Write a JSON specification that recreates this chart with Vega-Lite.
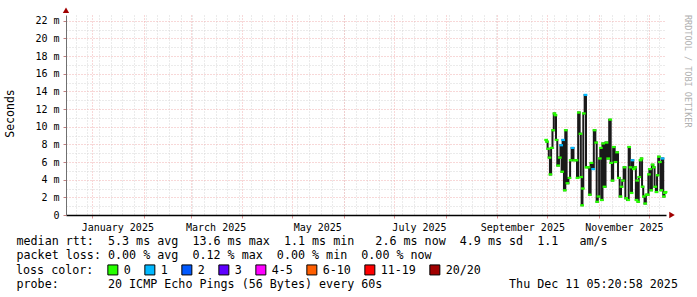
{
  "$schema": "https://vega.github.io/schema/vega-lite/v6.json",
  "autosize": "none",
  "width": 600,
  "height": 200,
  "padding": {"left": 66, "top": 15, "right": 31, "bottom": 82},
  "background": "white",
  "config": {"view": {"stroke": null}, "font": "DejaVu Sans Mono"},
  "title": {"text": "RRDTOOL / TOBI OETIKER", "orient": "right", "anchor": "start", "frame": "group", "font": "DejaVu Sans Mono", "fontSize": 8.5, "fontWeight": "normal", "color": "#b0b0b0", "offset": 6},
  "data": {"values": [
    {"t": "2025-09-30T07:00", "v": 8.5, "loss": "0"},
    {"t": "2025-09-30T21:00", "v": 8.3, "loss": "0"},
    {"t": "2025-10-01T12:00", "v": 7.5, "loss": "0"},
    {"t": "2025-10-02T07:00", "v": 6.5, "loss": "0"},
    {"t": "2025-10-02T21:00", "v": 4.6, "loss": "0"},
    {"t": "2025-10-03T17:00", "v": 7.6, "loss": "0"},
    {"t": "2025-10-04T12:00", "v": 9.6, "loss": "0"},
    {"t": "2025-10-05T07:00", "v": 11.5, "loss": "0"},
    {"t": "2025-10-05T22:00", "v": 11.3, "loss": "0"},
    {"t": "2025-10-06T12:00", "v": 8.5, "loss": "0"},
    {"t": "2025-10-07T12:00", "v": 5.6, "loss": "0"},
    {"t": "2025-10-08T12:00", "v": 6.5, "loss": "0"},
    {"t": "2025-10-09T07:00", "v": 7.9, "loss": "1"},
    {"t": "2025-10-09T22:00", "v": 4.9, "loss": "0"},
    {"t": "2025-10-10T12:00", "v": 8.5, "loss": "1"},
    {"t": "2025-10-11T12:00", "v": 2.8, "loss": "0"},
    {"t": "2025-10-12T02:00", "v": 9.6, "loss": "0"},
    {"t": "2025-10-13T02:00", "v": 3.6, "loss": "0"},
    {"t": "2025-10-14T07:00", "v": 4.2, "loss": "0"},
    {"t": "2025-10-15T02:00", "v": 6.2, "loss": "0"},
    {"t": "2025-10-16T03:00", "v": 7.6, "loss": "1"},
    {"t": "2025-10-17T07:00", "v": 6.2, "loss": "0"},
    {"t": "2025-10-18T12:00", "v": 6.2, "loss": "0"},
    {"t": "2025-10-19T03:00", "v": 4.2, "loss": "0"},
    {"t": "2025-10-19T22:00", "v": 11.6, "loss": "0"},
    {"t": "2025-10-20T22:00", "v": 9.2, "loss": "0"},
    {"t": "2025-10-21T07:00", "v": 4.3, "loss": "0"},
    {"t": "2025-10-21T22:00", "v": 1.1, "loss": "0"},
    {"t": "2025-10-22T07:00", "v": 3.0, "loss": "0"},
    {"t": "2025-10-22T22:00", "v": 11.5, "loss": "0"},
    {"t": "2025-10-23T22:00", "v": 13.6, "loss": "1"},
    {"t": "2025-10-24T12:00", "v": 5.4, "loss": "0"},
    {"t": "2025-10-25T17:00", "v": 5.4, "loss": "0"},
    {"t": "2025-10-26T12:00", "v": 2.3, "loss": "0"},
    {"t": "2025-10-27T12:00", "v": 5.9, "loss": "0"},
    {"t": "2025-10-28T12:00", "v": 5.2, "loss": "1"},
    {"t": "2025-10-29T08:00", "v": 9.6, "loss": "0"},
    {"t": "2025-10-30T08:00", "v": 8.2, "loss": "0"},
    {"t": "2025-10-30T22:00", "v": 1.5, "loss": "0"},
    {"t": "2025-10-31T17:00", "v": 2.1, "loss": "0"},
    {"t": "2025-11-01T12:00", "v": 6.4, "loss": "0"},
    {"t": "2025-11-02T03:00", "v": 7.6, "loss": "0"},
    {"t": "2025-11-02T17:00", "v": 1.7, "loss": "0"},
    {"t": "2025-11-03T12:00", "v": 8.1, "loss": "0"},
    {"t": "2025-11-04T08:00", "v": 3.2, "loss": "0"},
    {"t": "2025-11-05T13:00", "v": 8.2, "loss": "0"},
    {"t": "2025-11-06T13:00", "v": 6.4, "loss": "0"},
    {"t": "2025-11-07T18:00", "v": 10.8, "loss": "0"},
    {"t": "2025-11-08T08:00", "v": 5.9, "loss": "0"},
    {"t": "2025-11-09T03:00", "v": 3.9, "loss": "0"},
    {"t": "2025-11-09T22:00", "v": 7.7, "loss": "0"},
    {"t": "2025-11-10T22:00", "v": 6.0, "loss": "0"},
    {"t": "2025-11-11T22:00", "v": 7.1, "loss": "0"},
    {"t": "2025-11-12T22:00", "v": 4.2, "loss": "0"},
    {"t": "2025-11-13T22:00", "v": 2.1, "loss": "0"},
    {"t": "2025-11-14T13:00", "v": 3.2, "loss": "0"},
    {"t": "2025-11-15T08:00", "v": 3.9, "loss": "0"},
    {"t": "2025-11-16T08:00", "v": 5.4, "loss": "0"},
    {"t": "2025-11-17T08:00", "v": 1.9, "loss": "0"},
    {"t": "2025-11-18T13:00", "v": 1.7, "loss": "0"},
    {"t": "2025-11-19T03:00", "v": 7.7, "loss": "0"},
    {"t": "2025-11-19T23:00", "v": 5.4, "loss": "0"},
    {"t": "2025-11-20T13:00", "v": 2.5, "loss": "0"},
    {"t": "2025-11-21T03:00", "v": 6.2, "loss": "1"},
    {"t": "2025-11-21T23:00", "v": 5.2, "loss": "0"},
    {"t": "2025-11-22T18:00", "v": 5.4, "loss": "0"},
    {"t": "2025-11-23T13:00", "v": 1.7, "loss": "0"},
    {"t": "2025-11-23T23:00", "v": 3.9, "loss": "0"},
    {"t": "2025-11-24T13:00", "v": 1.5, "loss": "0"},
    {"t": "2025-11-25T04:00", "v": 4.3, "loss": "0"},
    {"t": "2025-11-25T23:00", "v": 6.2, "loss": "0"},
    {"t": "2025-11-26T13:00", "v": 6.4, "loss": "0"},
    {"t": "2025-11-27T04:00", "v": 3.2, "loss": "0"},
    {"t": "2025-11-27T23:00", "v": 2.1, "loss": "0"},
    {"t": "2025-11-28T18:00", "v": 1.3, "loss": "0"},
    {"t": "2025-11-29T13:00", "v": 2.3, "loss": "0"},
    {"t": "2025-11-30T08:00", "v": 2.3, "loss": "0"},
    {"t": "2025-11-30T23:00", "v": 4.6, "loss": "0"},
    {"t": "2025-12-01T13:00", "v": 5.2, "loss": "0"},
    {"t": "2025-12-02T08:00", "v": 2.8, "loss": "0"},
    {"t": "2025-12-03T04:00", "v": 5.7, "loss": "0"},
    {"t": "2025-12-03T23:00", "v": 5.4, "loss": "0"},
    {"t": "2025-12-04T18:00", "v": 3.2, "loss": "0"},
    {"t": "2025-12-05T13:00", "v": 2.6, "loss": "0"},
    {"t": "2025-12-06T04:00", "v": 4.5, "loss": "0"},
    {"t": "2025-12-06T23:00", "v": 6.6, "loss": "0"},
    {"t": "2025-12-07T13:00", "v": 6.0, "loss": "0"},
    {"t": "2025-12-08T09:00", "v": 2.8, "loss": "0"},
    {"t": "2025-12-09T04:00", "v": 6.4, "loss": "1"},
    {"t": "2025-12-09T23:00", "v": 2.1, "loss": "0"},
    {"t": "2025-12-10T13:00", "v": 2.5, "loss": "0"},
    {"t": "2025-12-10T23:00", "v": 2.6, "loss": "0"}
  ]},
  "resolve": {"axis": {"x": "independent", "y": "independent"}},
  "layer": [
    {
      "mark": {"type": "line", "color": "#1a1a1a", "strokeWidth": 2, "interpolate": "step"},
      "encoding": {
        "x": {"field": "t", "type": "temporal",
          "scale": {"domain": [{"year": 2024, "month": 12, "date": 16, "hours": 5, "minutes": 20, "seconds": 58}, {"year": 2025, "month": 12, "date": 11, "hours": 5, "minutes": 20, "seconds": 58}]},
          "axis": {"orient": "bottom", "tickCount": {"interval": "week", "step": 1}, "grid": true, "gridColor": "#d6d6d6", "gridDash": [1, 2], "labels": false, "ticks": false, "domain": false, "title": null}},
        "y": {"field": "v", "type": "quantitative",
          "scale": {"domain": [0, 22.65], "nice": false, "zero": true},
          "axis": {
            "orient": "left",
            "values": [0, 2, 4, 6, 8, 10, 12, 14, 16, 18, 20, 22],
            "grid": true, "gridColor": "#f0b0b0", "gridDash": [1, 2],
            "domain": true, "domainColor": "#707070", "domainWidth": 1,
            "ticks": true, "tickSize": 3, "tickColor": "#c08080",
            "labelExpr": "datum.value == 0 ? '0' : datum.value + ' m'",
            "labelOverlap": false,
            "labelFont": "DejaVu Sans Mono", "labelFontSize": 10, "labelColor": "black", "labelPadding": 4,
            "title": "Seconds",
            "titleFont": "DejaVu Sans Mono", "titleFontSize": 11.5, "titleFontWeight": "normal", "titleColor": "black",
            "titleX": -56, "titleY": 98, "titleAngle": -90, "titleAlign": "center", "titleBaseline": "middle"
          }}
      }
    },
    {
      "mark": {"type": "point", "filled": true, "opacity": 1, "size": 14, "shape": "M-1,-0.6H1V0.6H-1Z"},
      "encoding": {
        "x": {"field": "t", "type": "temporal",
          "scale": {"domain": [{"year": 2024, "month": 12, "date": 16, "hours": 5, "minutes": 20, "seconds": 58}, {"year": 2025, "month": 12, "date": 11, "hours": 5, "minutes": 20, "seconds": 58}]},
          "axis": {
            "orient": "bottom", "tickCount": {"interval": "month", "step": 1},
            "grid": true, "gridColor": "#f0b0b0", "gridDash": [1, 2],
            "ticks": true, "tickSize": 3, "tickColor": "#e09090",
            "domain": true, "domainColor": "black", "domainWidth": 1.5,
            "labelExpr": "month(datum.value) % 2 == 0 ? timeFormat(datum.value, '%B %Y') : ''",
            "labelOffset": 25, "labelOverlap": false, "labelFlush": false,
            "labelFont": "DejaVu Sans Mono", "labelFontSize": 10, "labelColor": "black", "labelPadding": 4,
            "title": [
              "median rtt:\u00a0\u00a05.3 ms avg\u00a0\u00a013.6 ms max\u00a0\u00a01.1 ms min\u00a0\u00a0\u00a02.6 ms now\u00a0\u00a04.9 ms sd\u00a0\u00a01.1\u00a0\u00a0\u00a0am/s",
              "packet loss: 0.00 % avg\u00a0\u00a00.12 % max\u00a0\u00a00.00 % min\u00a0\u00a00.00 % now"
            ],
            "titleFont": "DejaVu Sans Mono", "titleFontSize": 11.7, "titleFontWeight": "normal", "titleColor": "black",
            "titleX": -50, "titleY": 20, "titleAlign": "left", "titleBaseline": "top", "titleLineHeight": 14, "titleAngle": 0
          }},
        "y": {"field": "v", "type": "quantitative", "scale": {"domain": [0, 22.65], "nice": false, "zero": true},
          "axis": {
            "orient": "left",
            "values": [1, 3, 5, 7, 9, 11, 13, 15, 17, 19, 21],
            "grid": true, "gridColor": "#d6d6d6", "gridDash": [1, 2],
            "domain": false, "ticks": false, "labels": false,
            "title": "probe:\u00a0\u00a0\u00a0\u00a0\u00a0\u00a0\u00a020 ICMP Echo Pings (56 Bytes) every 60s\u00a0\u00a0\u00a0\u00a0\u00a0\u00a0\u00a0\u00a0\u00a0\u00a0\u00a0\u00a0\u00a0\u00a0\u00a0\u00a0\u00a0\u00a0Thu Dec 11 05:20:58 2025",
            "titleFont": "DejaVu Sans Mono", "titleFontSize": 11.7, "titleFontWeight": "normal", "titleColor": "black",
            "titleX": -50, "titleY": 268, "titleAngle": 0, "titleAlign": "left", "titleBaseline": "middle"
          }},
        "color": {"field": "loss", "type": "nominal",
          "scale": {"domain": ["0", "1", "2", "3", "4-5", "6-10", "11-19", "20/20"],
                    "range": ["#26ff00", "#00b8ff", "#0059ff", "#5e00ff", "#ff00ff", "#ff5e00", "#ff0000", "#a10000"]},
          "legend": {
            "orient": "none", "legendX": -50, "legendY": 249, "direction": "horizontal",
            "title": "loss color:", "titleOrient": "left", "titleFont": "DejaVu Sans Mono", "titleFontSize": 11.7, "titleFontWeight": "normal", "titleColor": "black", "titlePadding": 13,
            "labelFont": "DejaVu Sans Mono", "labelFontSize": 11.7, "labelColor": "black", "labelOffset": 5,
            "symbolType": "square", "symbolSize": 100, "symbolStrokeColor": "black", "symbolStrokeWidth": 1, "symbolOpacity": 1,
            "columnPadding": 11
          }}
      }
    },
    {
      "transform": [{"aggregate": [{"op": "count", "as": "n"}]}],
      "mark": {"type": "point", "shape": "triangle-right", "filled": true, "color": "#a00000", "opacity": 1, "size": 40, "clip": false},
      "encoding": {
        "x": {"datum": {"year": 2025, "month": 12, "date": 14, "hours": 20}, "type": "temporal", "axis": null},
        "y": {"datum": 0, "type": "quantitative", "axis": null}
      }
    },
    {
      "transform": [{"aggregate": [{"op": "count", "as": "n"}]}],
      "mark": {"type": "point", "shape": "triangle-up", "filled": true, "color": "#a00000", "opacity": 1, "size": 40, "clip": false},
      "encoding": {
        "x": {"datum": {"year": 2024, "month": 12, "date": 16, "hours": 5, "minutes": 20, "seconds": 58}, "type": "temporal", "axis": null},
        "y": {"datum": 23.2, "type": "quantitative", "axis": null}
      }
    }
  ]
}
